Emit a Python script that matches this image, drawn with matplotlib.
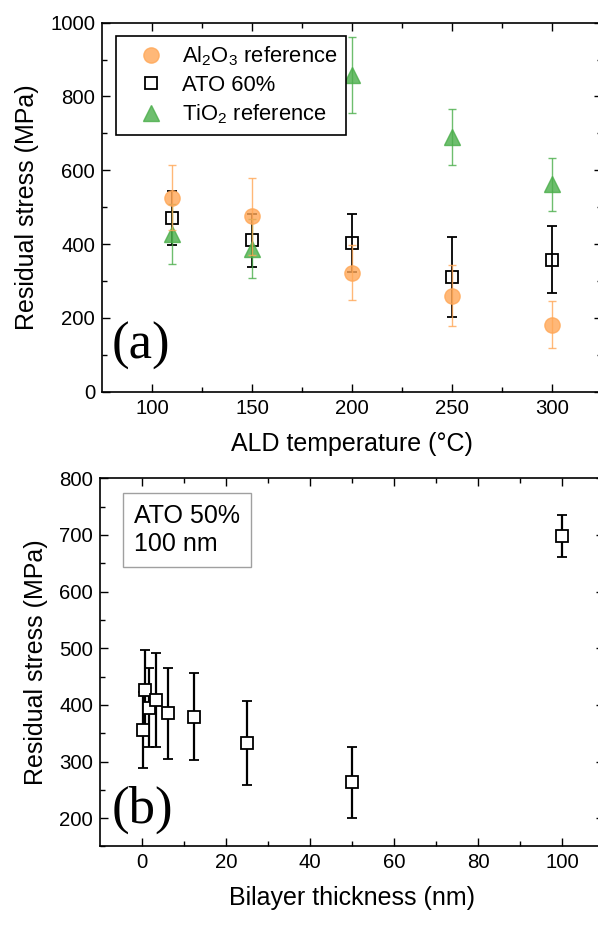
import matplotlib
matplotlib.use("Agg")
import matplotlib.pyplot as plt
from matplotlib.lines import Line2D

plt.rcParams['font.family'] = ['Liberation Sans', 'DejaVu Sans']
plt.rcParams['mathtext.default'] = 'regular'

# (a) residual stress vs ALD temperature
temps = [110, 150, 200, 250, 300]
al2o3 = [525, 475, 323, 260, 182]
al2o3_err = [88, 105, 75, 83, 63]
ato60 = [470, 410, 403, 310, 358]
ato60_err = [73, 71, 78, 108, 90]
tio2 = [428, 388, 858, 690, 562]
tio2_err = [82, 80, 102, 77, 72]

# (b) residual stress vs bilayer thickness, ATO 50% 100 nm
bilayer = [0.3, 0.6, 1.7, 3.3, 6.3, 12.5, 25, 50, 100]
stress_b = [355, 427, 395, 408, 385, 379, 332, 263, 698]
stress_b_err = [67, 69, 70, 83, 80, 77, 74, 63, 37]

orange = '#FFA756'
green = '#4AAE4A'


def style_axes(ax):
    ax.tick_params(which='both', direction='in', top=True, right=True,
                   labelsize=14.7, width=1.0, pad=5)
    ax.tick_params(which='major', length=5.8)
    ax.tick_params(which='minor', length=3.6)
    for sp in ax.spines.values():
        sp.set_linewidth(1.2)


fig = plt.figure(figsize=(5.98, 9.25), dpi=100)

ax1 = fig.add_axes([0.1706, 0.5765, 0.8361, 0.399])
ax1.errorbar(temps, ato60, yerr=ato60_err, fmt='s', ms=8.6, mfc='none',
             mec='black', mew=1.3, ecolor='black', elinewidth=1.3,
             capsize=3.4, capthick=1.3, zorder=2)
ax1.errorbar(temps, tio2, yerr=tio2_err, fmt='^', ms=11, mfc=green, mec=green,
             ecolor=green, elinewidth=1.0, capsize=2.9, capthick=1.0,
             alpha=0.8, zorder=3)
ax1.errorbar(temps, al2o3, yerr=al2o3_err, fmt='o', ms=11, mfc=orange, mec=orange,
             ecolor=orange, elinewidth=1.0, capsize=2.9, capthick=1.0,
             alpha=0.8, zorder=4)
ax1.set_xlim(75, 325)
ax1.set_ylim(0, 1000)
ax1.set_xticks([100, 150, 200, 250, 300])
ax1.set_xticks([125, 175, 225, 275], minor=True)
ax1.set_yticks(range(0, 1001, 200))
ax1.set_yticks(range(100, 1000, 200), minor=True)
style_axes(ax1)
ax1.set_xlabel('ALD temperature (°C)', fontsize=18, labelpad=10)
ax1.set_ylabel('Residual stress (MPa)', fontsize=18, labelpad=8)

handles = [
    Line2D([], [], ls='none', marker='o', ms=11, mfc=orange, mec=orange, alpha=0.8),
    Line2D([], [], ls='none', marker='s', ms=8.6, mfc='none', mec='black', mew=1.3),
    Line2D([], [], ls='none', marker='^', ms=11, mfc=green, mec=green, alpha=0.8),
]
labels = ['Al$_2$O$_3$ reference', 'ATO 60%', 'TiO$_2$ reference']
leg = ax1.legend(handles, labels, loc='upper left', bbox_to_anchor=(0.028, 0.964),
                 borderaxespad=0, fontsize=15.8, fancybox=False, framealpha=1,
                 edgecolor='black', handletextpad=0.2, labelspacing=0.3,
                 borderpad=0.4, handlelength=2.4)
leg.get_frame().set_linewidth(1.2)
ax1.text(0.02, 0.06, '(a)', transform=ax1.transAxes, fontsize=38,
         family='Liberation Serif', ha='left', va='bottom')

ax2 = fig.add_axes([0.1672, 0.0849, 0.8428, 0.398])
ax2.errorbar(bilayer, stress_b, yerr=stress_b_err, fmt='s', ms=8.6, mfc='white',
             mec='black', mew=1.3, ecolor='black', elinewidth=1.6,
             capsize=3.8, capthick=1.6)
ax2.set_xlim(-10, 110)
ax2.set_ylim(150, 800)
ax2.set_xticks(range(0, 101, 20))
ax2.set_xticks(range(10, 111, 20), minor=True)
ax2.set_yticks(range(200, 801, 100))
ax2.set_yticks(range(150, 800, 100), minor=True)
style_axes(ax2)
ax2.set_xlabel('Bilayer thickness (nm)', fontsize=18, labelpad=10)
ax2.set_ylabel('Residual stress (MPa)', fontsize=18, labelpad=8)
ax2.text(0.067, 0.93, 'ATO 50%\n100 nm', transform=ax2.transAxes, fontsize=18,
         ha='left', va='top', linespacing=1.2,
         bbox=dict(boxstyle='square,pad=0.45', fc='white', ec='#a0a0a0', lw=1.0))
ax2.text(0.024, 0.035, '(b)', transform=ax2.transAxes, fontsize=38,
         family='Liberation Serif', ha='left', va='bottom')

fig.savefig('out.png', dpi=100)
